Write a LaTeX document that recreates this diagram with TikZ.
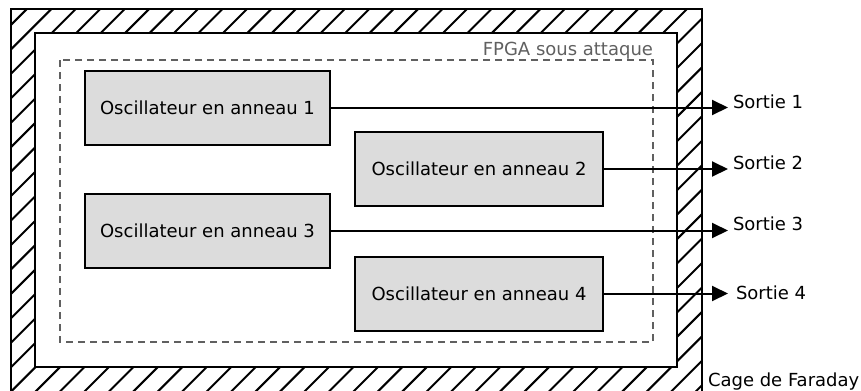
\documentclass[tikz,border=0pt]{standalone}
\usepackage{fontspec}
\setmainfont{DejaVu Sans}
\usetikzlibrary{arrows.meta}
\definecolor{boxgrey}{HTML}{DCDCDC}
\definecolor{dashgrey}{HTML}{606060}
\tikzset{
  px/.style={x=0.75pt,y=-0.75pt},
  wall/.style={line width=1.5pt},
  osc/.style={draw=black,line width=1.5pt,fill=boxgrey,inner sep=0pt,outer sep=0pt,
    minimum height=55.5pt,font=\fontsize{13.5}{16}\selectfont},
  oscA/.style={osc,minimum width=183.75pt},
  oscB/.style={osc,minimum width=186pt},
  outarrow/.style={line width=1.5pt,-{Triangle[length=12pt,width=11.25pt]}},
  lbl/.style={inner sep=0pt,outer sep=0pt,font=\fontsize{13.5}{16}\selectfont},
}
\begin{document}
\begin{tikzpicture}[px]
\useasboundingbox (0,0) rectangle (861,390);
% hatching of the Faraday cage
\begin{scope}[even odd rule]
  \clip (11,9) rectangle (702,393) (35,33) rectangle (677,367);
  \foreach \k in {-5,...,45} {
    \pgfmathsetmacro{\c}{133.7+24.45*\k}
    \draw[wall] (\c-420,420) -- (\c+20,-20);
  }
\end{scope}
\draw[wall] (11,393) -- (11,9) -- (702,9) -- (702,393);
\draw[wall] (35,33) rectangle (677,367);
% FPGA region
\draw[dashgrey,line width=1.5pt,dash pattern=on 5.25pt off 3.75pt] (60,60) rectangle (653,342);
\node[lbl,text=dashgrey,anchor=base east] (fpga) at (653,55) {FPGA sous attaque};
% oscillators
\node[oscA] (o1) at (207.5,107.5) {Oscillateur en anneau 1};
\node[oscB] (o2) at (479,169) {Oscillateur en anneau 2};
\node[oscA] (o3) at (207.5,230.5) {Oscillateur en anneau 3};
\node[oscB] (o4) at (479,293.5) {Oscillateur en anneau 4};
% outputs
\coordinate (e1) at (728,107.5);
\coordinate (e2) at (728,169);
\coordinate (e3) at (728,230.5);
\coordinate (e4) at (728,293.5);
\draw[outarrow] (o1.east) -- (e1);
\draw[outarrow] (o2.east) -- (e2);
\draw[outarrow] (o3.east) -- (e3);
\draw[outarrow] (o4.east) -- (e4);
\node[lbl,anchor=west] (s1) at (733,102) {Sortie 1};
\node[lbl,anchor=west] (s2) at (733,163) {Sortie 2};
\node[lbl,anchor=west] (s3) at (733,224) {Sortie 3};
\node[lbl,anchor=west] (s4) at (736,293) {Sortie 4};
\node[lbl,anchor=base west] (cage) at (708,386) {Cage de Faraday};
\end{tikzpicture}
\end{document}
